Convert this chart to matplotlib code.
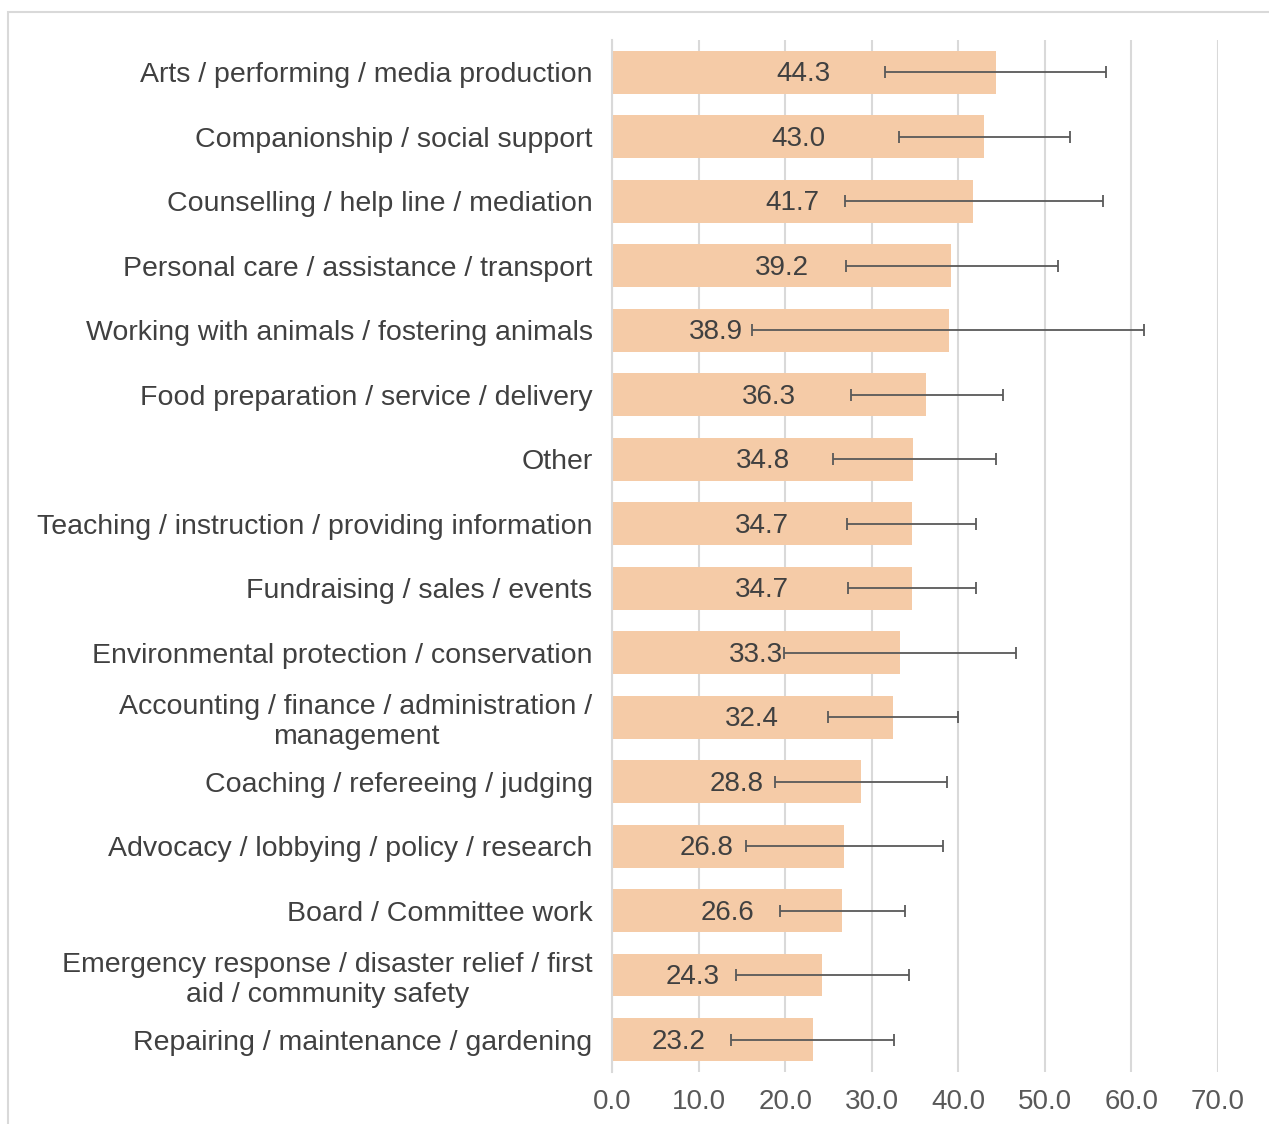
import matplotlib.pyplot as plt
from matplotlib.patches import Rectangle

plt.rcParams['font.family'] = ['Liberation Sans', 'DejaVu Sans']

# categories top to bottom
categories = [
    'Arts / performing / media production',
    'Companionship / social support',
    'Counselling / help line / mediation',
    'Personal care / assistance / transport',
    'Working with animals / fostering animals',
    'Food preparation / service / delivery',
    'Other',
    'Teaching / instruction / providing information',
    'Fundraising / sales / events',
    'Environmental protection / conservation',
    'Accounting / finance / administration /\nmanagement',
    'Coaching / refereeing / judging',
    'Advocacy / lobbying / policy / research',
    'Board / Committee work',
    'Emergency response / disaster relief / first\naid / community safety',
    'Repairing / maintenance / gardening',
]
values = [44.3, 43.0, 41.7, 39.2, 38.9, 36.3, 34.8, 34.7, 34.7, 33.3, 32.4, 28.8, 26.8, 26.6, 24.3, 23.2]
err_low = [31.5, 33.2, 26.9, 27.0, 16.2, 27.6, 25.5, 27.1, 27.3, 19.9, 24.9, 18.8, 15.5, 19.4, 14.3, 13.8]
err_high = [57.1, 52.9, 56.7, 51.5, 61.5, 45.2, 44.3, 42.1, 42.1, 46.7, 40.0, 38.7, 38.2, 33.8, 34.3, 32.6]

# manual nudges of a few value labels (data units, from bar centre)
label_shift = [0, 0, 0, 0, -7.5, 0, 0, 0, 0, 0, 0, 0, -2.5, 0, -2.8, -3.9]

fig = plt.figure(figsize=(12.69, 11.24), dpi=100)
ax = fig.add_axes([0.4823, 0.0463, 0.4775, 0.9181])

ypos = list(range(len(categories)))
xerr = [[v - lo for v, lo in zip(values, err_low)],
        [hi - v for v, hi in zip(values, err_high)]]

ax.barh(ypos, values, height=0.66, color='#F5CBA7', zorder=2)
ax.errorbar(values, ypos, xerr=xerr, fmt='none', ecolor='#595959',
            elinewidth=1.3, capsize=4, capthick=1.3, zorder=3)

for y, v, s in zip(ypos, values, label_shift):
    ax.text(v / 2 + s, y + 0.03, f'{v:.1f}', ha='center', va='center',
            fontsize=20, color='#404040', zorder=4)

ax.set_xlim(0, 70)
ax.set_ylim(len(categories) - 0.5, -0.5)
ax.set_xticks(range(0, 71, 10))
ax.set_xticklabels([f'{t:.1f}' for t in range(0, 71, 10)])
ax.set_yticks(ypos)
ax.set_yticklabels(categories)

ax.tick_params(axis='x', length=0, labelsize=20, labelcolor='#595959', pad=12)
ax.tick_params(axis='y', length=0, labelsize=20.5, labelcolor='#404040', pad=14)
for lbl in ax.get_yticklabels():
    lbl.set_multialignment('center')

ax.grid(axis='x', color='#D9D9D9', linewidth=1.5, zorder=0)
ax.set_axisbelow(True)
for side in ['top', 'right', 'bottom']:
    ax.spines[side].set_visible(False)
ax.spines['left'].set_color('#D9D9D9')
ax.spines['left'].set_linewidth(1.5)

# chart area border
fig.patches.append(Rectangle((8 / 1269, -0.05), 1.1, 1 - 12 / 1124 + 0.05,
                             transform=fig.transFigure, fill=False,
                             edgecolor='#D9D9D9', linewidth=1.5))

fig.savefig('out.png', dpi=100)
